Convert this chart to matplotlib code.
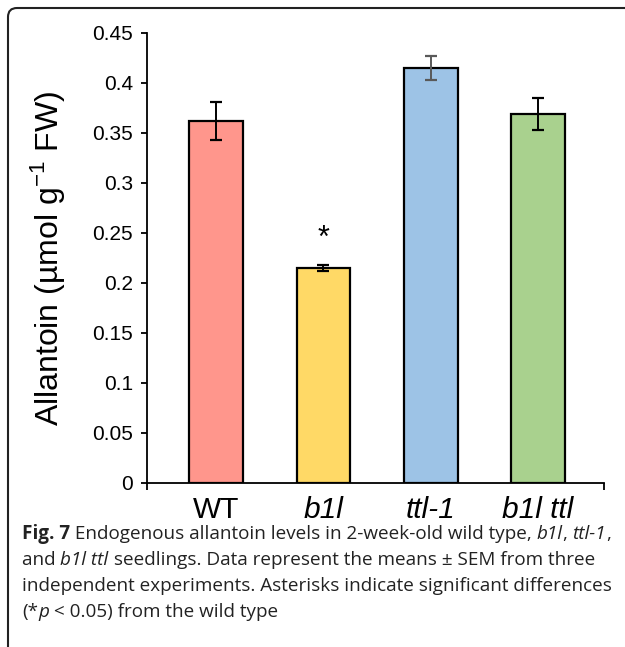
import matplotlib
matplotlib.use("Agg")
import matplotlib.pyplot as plt
from matplotlib.patches import FancyBboxPatch

# data
genotypes = ["WT", "b1l", "ttl-1", "b1l ttl"]
allantoin = [0.362, 0.215, 0.415, 0.369]
sem = [0.019, 0.003, 0.012, 0.016]
bar_colors = ["#FF968C", "#FFD966", "#9DC3E6", "#A9D18E"]
err_colors = ["black", "black", "#595959", "black"]
yticks = [0, 0.05, 0.1, 0.15, 0.2, 0.25, 0.3, 0.35, 0.4, 0.45]
ytick_labels = ["0", "0.05", "0.1", "0.15", "0.2", "0.25", "0.3", "0.35", "0.4", "0.45"]
star_idx = 1
star_y = 0.244

# caption pieces: (text, style) with style n=normal, i=italic, b=bold
caption_lines = [
    [("Fig. 7", "b"), (" Endogenous allantoin levels in 2-week-old wild type, ", "n"),
     ("b1l", "i"), (", ", "n"), ("ttl-1", "i"), (",", "n")],
    [("and ", "n"), ("b1l ttl", "i"), (" seedlings. Data represent the means \u00b1 SEM from three", "n")],
    [("independent experiments. Asterisks indicate significant differences", "n")],
    [("(*", "n"), ("p", "i"), (" < 0.05) from the wild type", "n")],
]

plt.rcParams["font.family"] = "Liberation Sans"
plt.rcParams["mathtext.fontset"] = "custom"
plt.rcParams["mathtext.rm"] = "Liberation Sans"

fig = plt.figure(figsize=(6.25, 6.47), dpi=100)
ax = fig.add_axes([147 / 625, 1 - 483 / 647, 457 / 625, 450 / 647])

x = list(range(len(genotypes)))
ax.bar(x, allantoin, width=0.5, color=bar_colors, edgecolor="black", linewidth=1.6, zorder=2)
for i in x:
    ax.errorbar(i, allantoin[i], yerr=sem[i], fmt="none", ecolor=err_colors[i],
                elinewidth=1.4, capsize=4.5, capthick=1.6, zorder=3)

ax.text(star_idx, star_y, "*", ha="center", va="center", fontsize=22)

ax.set_xlim(-0.645, 3.615)
ax.set_ylim(0, 0.45)
ax.set_yticks(yticks)
ax.set_yticklabels(ytick_labels, fontsize=15)
ax.set_xticks(x)
ax.set_xticklabels(genotypes, fontsize=21.5)
for lab in ax.get_xticklabels()[1:]:
    lab.set_style("italic")
ax.tick_params(axis="x", length=0, pad=9)
ax.tick_params(axis="y", length=4, width=1.3, pad=6, direction="out")
# small ticks at both ends of the category axis
ax.set_xticks([-0.645, 3.615], minor=True)
ax.tick_params(axis="x", which="minor", length=5, width=1.3, direction="out")

for s in ["top", "right"]:
    ax.spines[s].set_visible(False)
for s in ["left", "bottom"]:
    ax.spines[s].set_linewidth(1.3)

ax.set_ylabel(r"Allantoin (µmol g$^{-1}$ FW)", fontsize=23)
ax.yaxis.set_label_coords(-0.175, 0.5)

# caption, drawn piece by piece so italics/bold use the real font faces
renderer = fig.canvas.get_renderer()
for k, pieces in enumerate(caption_lines):
    xpos = 22
    ypos = 647 - (539 + 26 * k)
    for txt, st in pieces:
        t = fig.text(xpos / 625, ypos / 647, txt, fontsize=13.6, family="Open Sans",
                     color="#222222", ha="left", va="baseline",
                     style="italic" if st == "i" else "normal",
                     weight="bold" if st == "b" else "normal")
        bb = t.get_window_extent(renderer=renderer)
        xpos += bb.width

# rounded frame around chart and caption (pixel coords)
frame = FancyBboxPatch((8, -30), 700, 647 - 8 + 30,
                       boxstyle="round,pad=0,rounding_size=9",
                       transform=None, fill=False, edgecolor="#222222", linewidth=1.5)
fig.patches.append(frame)

fig.savefig("out.png", dpi=100)
